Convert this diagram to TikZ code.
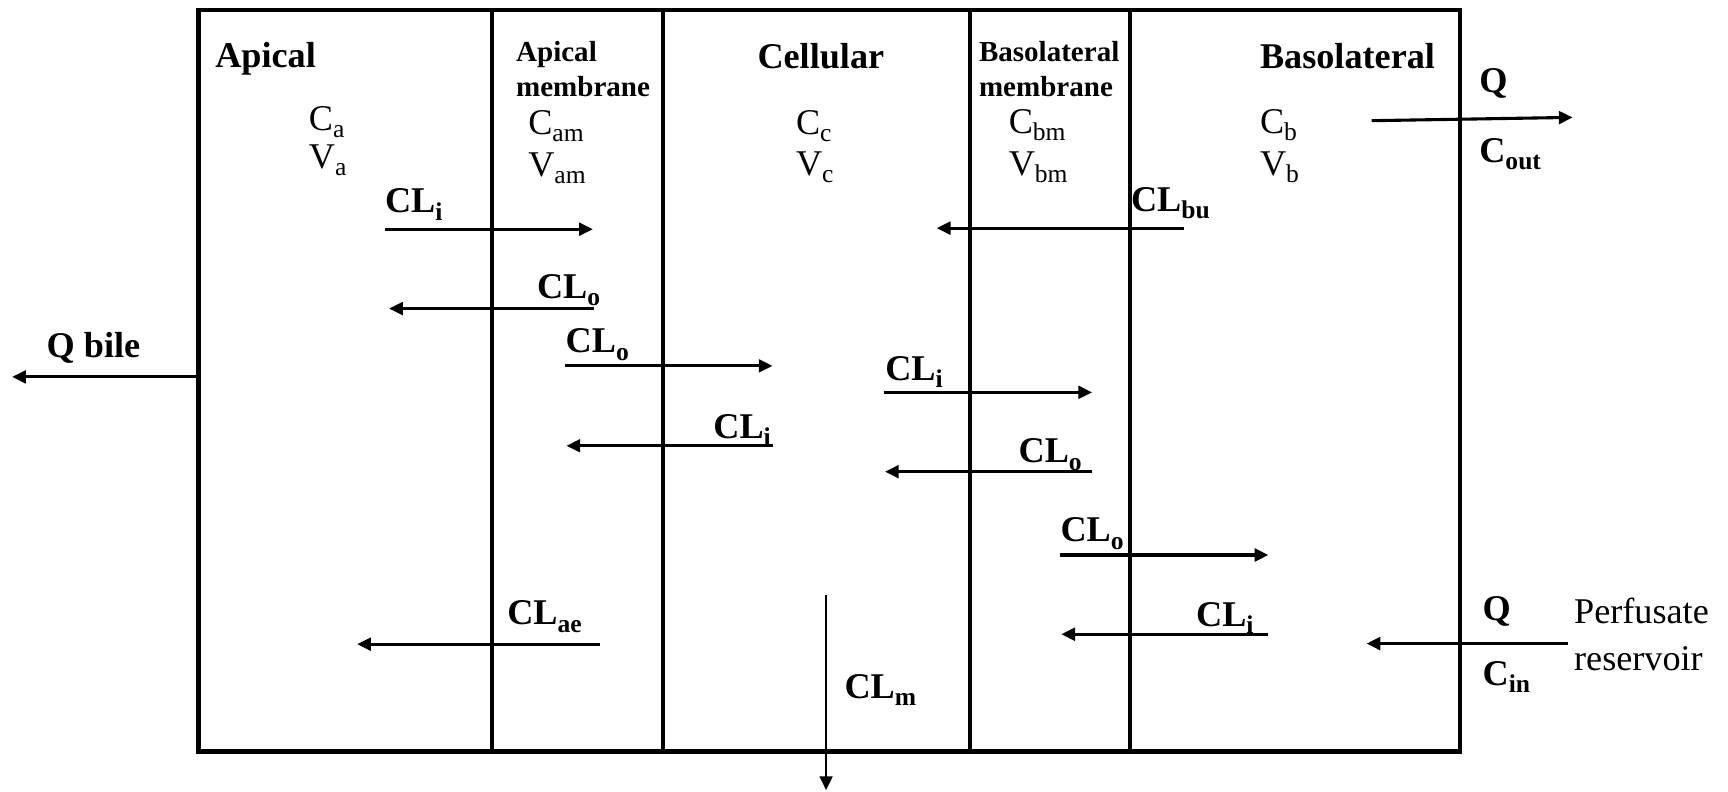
\documentclass[tikz,border=0pt]{standalone}
\usepackage{fontspec}
\setmainfont{Liberation Serif}
\usetikzlibrary{arrows.meta}

\newcommand{\sbs}[1]{\raisebox{-3.8pt}{\fontsize{13.2}{13.2}\selectfont #1}}

\begin{document}
\begin{tikzpicture}[
  x=0.02cm, y=-0.02cm,
  font=\fontsize{18.7}{22}\selectfont,
  wall/.style={line width=2.3pt},
  memline/.style={line width=2pt},
  flow/.style={-{Triangle[length=2.5mm, width=2.3mm]}, line width=1.6pt},
  txt/.style={inner sep=0pt, anchor=base west},
  lab/.style={txt, font=\fontsize{18.7}{22}\selectfont\bfseries},
  mlab/.style={txt, align=left, font=\fontsize{15}{18.1}\selectfont\bfseries}
]
\useasboundingbox (0,0) rectangle (1568,718);

% ---------------- compartments ----------------
\coordinate (nw) at (180,9);
\coordinate (se) at (1325,682);
\draw[wall] (nw) rectangle (se);
\draw[memline] (446.5,9) -- (446.5,682);
\draw[memline] (601.6,9) -- (601.6,682);
\draw[memline] (880.2,9) -- (880.2,682);
\draw[memline] (1025.4,9) -- (1025.4,682);

\node[lab] (apical) at (195,61) {Apical};
\node[mlab] (apmem) at (468,87.5) {Apical\\membrane};
\node[lab] (cell) at (687,62) {Cellular};
\node[mlab] (basmem) at (888,87.5) {Basolateral\\membrane};
\node[lab] (basal) at (1143,62) {Basolateral};

\node[txt] (ca) at (280,118) {C\sbs{a}};
\node[txt] (va) at (280,153) {V\sbs{a}};
\node[txt] (cam) at (479,122) {C\sbs{am}};
\node[txt] (vam) at (479,160) {V\sbs{am}};
\node[txt] (cc) at (722,122) {C\sbs{c}};
\node[txt] (vc) at (722,159) {V\sbs{c}};
\node[txt] (cbm) at (915,121) {C\sbs{bm}};
\node[txt] (vbm) at (915,159) {V\sbs{bm}};
\node[txt] (cb) at (1143,121) {C\sbs{b}};
\node[txt] (vb) at (1143,159) {V\sbs{b}};

% ---------------- clearance arrows ----------------
\coordinate (i1a) at (349,208);    \coordinate (i1b) at (538,208);
\coordinate (bua) at (1074,207);   \coordinate (bub) at (850,207);
\coordinate (o1a) at (539,280);    \coordinate (o1b) at (353,280);
\coordinate (o2a) at (513,332);    \coordinate (o2b) at (701,332);
\coordinate (i2a) at (802,356);    \coordinate (i2b) at (991,356);
\coordinate (i3a) at (701,404.5);  \coordinate (i3b) at (514,404.5);
\coordinate (o3a) at (991,428);    \coordinate (o3b) at (803,428);
\coordinate (o4a) at (962,503.6);  \coordinate (o4b) at (1151,503.6);
\coordinate (aea) at (544,584.5);  \coordinate (aeb) at (324,584.5);
\coordinate (i4a) at (1151,575.5); \coordinate (i4b) at (963,575.5);
\coordinate (ma) at (749.6,540);   \coordinate (mb) at (749.6,717);

\draw[flow] (i1a) -- (i1b);
\node[lab] (cli1) at (349,193) {CL\sbs{i}};
\draw[flow] (bua) -- (bub);
\node[lab] (clbu) at (1026,192) {CL\sbs{bu}};
\draw[flow] (o1a) -- (o1b);
\node[lab] (clo1) at (487,270.5) {CL\sbs{o}};
\draw[flow] (o2a) -- (o2b);
\node[lab] (clo2) at (513,320) {CL\sbs{o}};
\draw[flow] (i2a) -- (i2b);
\node[lab] (cli2) at (803,345) {CL\sbs{i}};
\draw[flow] (i3a) -- (i3b);
\node[lab] (cli3) at (647,397.5) {CL\sbs{i}};
\draw[flow] (o3a) -- (o3b);
\node[lab] (clo3) at (924,420) {CL\sbs{o}};
\draw[flow] (o4a) -- (o4b);
\node[lab] (clo4) at (962,491.5) {CL\sbs{o}};
\draw[flow] (aea) -- (aeb);
\node[lab] (clae) at (460,567) {CL\sbs{ae}};
\draw[flow] (i4a) -- (i4b);
\node[lab] (cli4) at (1085,568.5) {CL\sbs{i}};
\draw[flow, line width=1.2pt] (ma) -- (mb);
\node[lab] (clm) at (766,633.5) {CL\sbs{m}};

% ---------------- bile, perfusate in and out ----------------
\coordinate (bilea) at (180,342);  \coordinate (bileb) at (11,342);
\draw[flow] (bilea) -- (bileb);
\node[lab] (qbile) at (42,324) {Q bile};

\coordinate (outa) at (1244.6,109.5); \coordinate (outb) at (1427,106.5);
\draw[flow] (outa) -- (outb);
\node[lab] (qout) at (1342,84) {Q};
\node[lab] (cout) at (1342,147) {C\sbs{out}};

\coordinate (ina) at (1423,584);   \coordinate (inb) at (1240,584);
\draw[flow] (ina) -- (inb);
\node[lab] (qin) at (1345,563) {Q};
\node[lab] (cin) at (1345,622) {C\sbs{in}};
\node[txt, align=left, font=\fontsize{18.7}{23.8}\selectfont] (res) at (1428,608)
  {Perfusate\\reservoir};

\end{tikzpicture}
\end{document}
